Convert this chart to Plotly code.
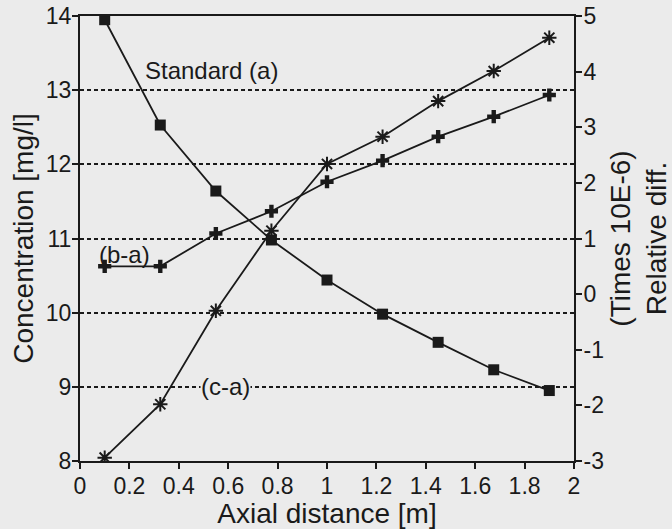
import plotly.graph_objects as go

axial_distance = [0.1, 0.325, 0.55, 0.775, 1.0, 1.225, 1.45, 1.675, 1.9]
standard_a = [13.95, 12.53, 11.64, 10.98, 10.44, 9.98, 9.60, 9.23, 8.95]
diff_b_a = [0.50, 0.50, 1.09, 1.49, 2.02, 2.40, 2.83, 3.19, 3.58]
diff_c_a = [-2.94, -1.98, -0.30, 1.14, 2.34, 2.83, 3.47, 4.01, 4.61]

x_ticks = [0, 0.2, 0.4, 0.6, 0.8, 1, 1.2, 1.4, 1.6, 1.8, 2]
y_ticks = [8, 9, 10, 11, 12, 13, 14]
y2_ticks = [-3, -2, -1, 0, 1, 2, 3, 4, 5]

BG = "#ebebeb"
INK = "#1a1a1a"
FONT = "Liberation Sans, Arial, Helvetica, sans-serif"
FS = 23

fig = go.Figure()
fig.add_trace(go.Scatter(x=axial_distance, y=standard_a, mode="lines+markers",
                         line=dict(color=INK, width=1.8),
                         marker=dict(symbol="square", size=11, color=INK),
                         name="Standard (a)", yaxis="y"))
fig.add_trace(go.Scatter(x=axial_distance, y=diff_b_a, mode="lines+markers",
                         line=dict(color=INK, width=1.8),
                         marker=dict(symbol="cross", size=11, color=INK),
                         name="(b-a)", yaxis="y2"))
fig.add_trace(go.Scatter(x=axial_distance, y=diff_c_a, mode="lines+markers",
                         line=dict(color=INK, width=1.8),
                         marker=dict(symbol="asterisk", size=12,
                                     line=dict(color=INK, width=2)),
                         name="(c-a)", yaxis="y2"))

annots = [
    dict(x=0.259, y=13.26, text="Standard (a)", xanchor="left"),
    dict(x=0.073, y=10.78, text="(b-a)", xanchor="left"),
    dict(x=0.486, y=9.0, text="(c-a)", xanchor="left", bgcolor=BG),
]
for a in annots:
    fig.add_annotation(xref="x", yref="y", showarrow=False, yanchor="middle",
                       font=dict(family=FONT, size=FS + 1, color=INK),
                       borderpad=0, **a)

fig.update_layout(
    width=672, height=529,
    paper_bgcolor=BG, plot_bgcolor=BG,
    margin=dict(l=80, r=98, t=16, b=68),
    showlegend=False,
    font=dict(family=FONT, size=FS, color=INK),
    xaxis=dict(range=[0, 2], tickvals=x_ticks, ticktext=[f"{v:g}" for v in x_ticks],
               showline=True, linecolor=INK, linewidth=2, mirror=True,
               ticks="outside", ticklen=6, tickwidth=1.5, tickcolor=INK,
               ticklabelstandoff=-3,
               showgrid=False, zeroline=False, automargin=False,
               title=dict(text="Axial distance [m]", standoff=0)),
    yaxis=dict(range=[8, 14], tickvals=y_ticks, ticktext=[str(v) for v in y_ticks],
               showline=True, linecolor=INK, linewidth=2,
               ticks="outside", ticklen=6, tickwidth=1.5, tickcolor=INK,
               ticklabelstandoff=-4,
               showgrid=True, gridcolor=INK, gridwidth=1.5, griddash="4px,3px",
               zeroline=False, automargin=False,
               title=dict(text="Concentration [mg/l]", standoff=4)),
    yaxis2=dict(range=[-3, 5], tickvals=y2_ticks, ticktext=[str(v) for v in y2_ticks],
                overlaying="y", side="right",
                showline=True, linecolor=INK, linewidth=2,
                ticks="outside", ticklen=6, tickwidth=1.5, tickcolor=INK,
                ticklabelstandoff=-3,
                showgrid=False, zeroline=False, automargin=False,
                title=dict(text="(Times 10E-6)<br>Relative diff.", standoff=18)),
)

fig.write_html("out.html", config={"displayModeBar": False},
               post_script="document.body.style.margin='0';"
                           "document.body.style.background='%s';" % BG)
